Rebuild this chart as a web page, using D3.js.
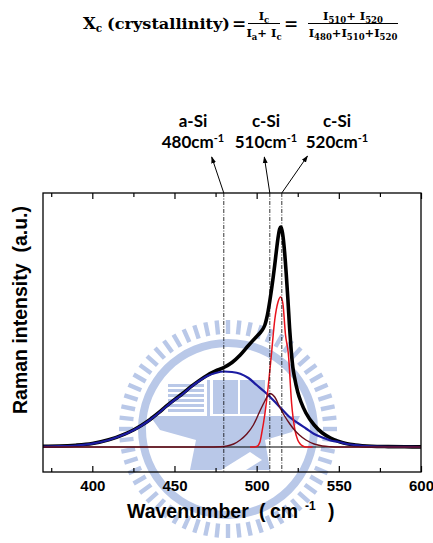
<!DOCTYPE html>
<html><head><meta charset="utf-8">
<script src="https://cdn.jsdelivr.net/npm/d3@7"></script>
<style>body{margin:0;background:#fff}</style>
</head><body><svg id="c" width="433" height="543"></svg>
<script>
// ---------- data ----------
const xTicksMajor = [400, 450, 500, 550, 600];
const xTicksMinor = [375, 425, 475, 525, 575];

const totalWn  = [370,380,390,400,410,420,425,430,435,440,445,450,455,460,465,470,475,480,485,490,495,500,502,504,505,506,507,508,509,510,511,512,513,514,514.6,515,516,517,518,519,520,521,522,523,525,527,530,535,540,545,550,555,560,570,580,590,600];
const totalVal = [0.8,1,1.8,3.5,7.2,13.2,17,21.8,27.3,33.8,40.8,47.4,53.5,60.3,66.4,71.8,76,79.5,84.5,92,101.5,110.5,114,118.5,122,128,136,146,157,169,182,196,209,218,220,219,211,195,173,148,120,97,80,70,55,45,34,22,14,9,5.5,3.2,2,0.8,0.4,0.2,0.1];

const aSi480Wn  = [370,380,390,400,410,420,425,430,435,440,445,450,455,460,465,470,475,480,485,490,495,500,505,510,515,520,525,530,535,540,545,550,555,560,570,580,590,600];
const aSi480Val = [0.5,0.8,1.5,3.3,7,13,16.7,21.5,27,33.5,40.5,47,53,60,66,71,74,75.5,75,73.3,69,62,55,47,38.5,30,24,18.5,13,9.5,6.5,5,3,1.8,0.6,0.2,0.1,0];

const cSi510Wn  = [370,470,478,482,486,490,494,498,502,505,508,511,514,517,520,523,526,530,535,540,545,550,600];
const cSi510Val = [0,0,0.3,1,3,7,13,22,36,46,53.5,50,40,31,23.5,17,12,7,3,1,0.3,0,0];

const cSi520Wn  = [496,498,500,502,503,505,507,509,511,513,514.6,516,517.5,519.3,521.3,523.3,525,526.5,528,530,534];
const cSi520Val = [0,0,0.5,5,13,33,60,93,127,145,150,143,113,93,43,17,7,3,1,0,0];

const peakLinesWn = [480, 508, 515.3];
const peakNames   = ["a-Si", "c-Si", "c-Si"];
const peakNumbers = ["480", "510", "520"];

// ---------- layout ----------
const svg = d3.select("#c");
const L = 43, R = 421, T = 193, B = 472;
const x = d3.scaleLinear().domain([370, 600]).range([L, R]);
const y = d3.scaleLinear().domain([-25, 254]).range([B, T]);

const defs = svg.append("defs");
defs.append("clipPath").attr("id","clip")
  .append("rect").attr("x",L).attr("y",T).attr("width",R-L).attr("height",B-T);
defs.append("marker").attr("id","arr").attr("viewBox","0 0 10 10").attr("refX",9).attr("refY",5)
  .attr("markerWidth",7).attr("markerHeight",7).attr("orient","auto")
  .append("path").attr("d","M0,1.5 L10,5 L0,8.5 Z").attr("fill","#000");

// ---------- faint watermark emblem (background decoration) ----------
const wm = svg.append("g").attr("fill","#b9c8e8").attr("stroke","none");
const cx0 = 228, cy0 = 429;
d3.range(0, 360, 6).forEach(a=>{
  wm.append("rect").attr("x",-2.2).attr("y",-109).attr("width",4.4).attr("height",14)
    .attr("transform",`translate(${cx0},${cy0}) rotate(${a})`);
});
wm.append("path").attr("d", d3.arc().innerRadius(82).outerRadius(90).startAngle(0).endAngle(2*Math.PI)())
  .attr("transform",`translate(${cx0},${cy0})`);
// book block
d3.range(0,6).forEach(i=>{
  wm.append("rect").attr("x",168).attr("y",384+i*5).attr("width",36).attr("height",3);
});
wm.append("rect").attr("x",207).attr("y",380).attr("width",3).attr("height",36);
wm.append("rect").attr("x",213).attr("y",380).attr("width",25).attr("height",34);
wm.append("rect").attr("x",240).attr("y",380).attr("width",25).attr("height",34);
// anvil-like base
wm.append("path").attr("d","M150,416 L300,416 L292,432 L265,440 L270,470 L190,470 L196,440 L160,430 Z");
wm.append("path").attr("d","M205,480 L250,452 L262,460 L214,490 Z").attr("fill","#ffffff");

const zip = (a,b) => a.map((v,i)=>[v,b[i]]);
const line = d3.line().x(d=>x(d[0])).y(d=>y(d[1])).curve(d3.curveMonotoneX);

const plot = svg.append("g").attr("clip-path","url(#clip)");
plot.append("line").attr("x1",L).attr("x2",R).attr("y1",y(0)).attr("y2",y(0))
  .attr("stroke","#000").attr("stroke-width",1.2);
plot.append("path").attr("d",line(zip(totalWn,totalVal))).attr("fill","none")
  .attr("stroke","#000").attr("stroke-width",3.6).attr("stroke-linejoin","round");
plot.append("path").attr("d",line(zip(aSi480Wn,aSi480Val))).attr("fill","none")
  .attr("stroke","#1c1ca2").attr("stroke-width",2.2);
plot.append("path").attr("d",line(zip(cSi520Wn,cSi520Val))).attr("fill","none")
  .attr("stroke","#e8121c").attr("stroke-width",1.5);
plot.append("path").attr("d",line(zip(cSi510Wn,cSi510Val))).attr("fill","none")
  .attr("stroke","#6a0f1c").attr("stroke-width",1.4);

// dashed peak lines
svg.selectAll(".pl").data(peakLinesWn).enter().append("line")
  .attr("x1",d=>x(d)).attr("x2",d=>x(d)).attr("y1",T).attr("y2",B)
  .attr("stroke","#000").attr("stroke-width",0.8).attr("stroke-dasharray","4,1.5,1,1.5");

// frame
svg.append("rect").attr("x",L).attr("y",T).attr("width",R-L).attr("height",B-T)
  .attr("fill","none").attr("stroke","#000").attr("stroke-width",1.3);

// axes
const fmt = d3.format("d");
const gB = svg.append("g").attr("transform",`translate(0,${B})`)
  .call(d3.axisBottom(x).tickValues(xTicksMajor).tickSize(-6).tickPadding(8).tickFormat(fmt));
const gBm = svg.append("g").attr("transform",`translate(0,${B})`)
  .call(d3.axisBottom(x).tickValues(xTicksMinor).tickSize(-4).tickFormat(""));
const gT = svg.append("g").attr("transform",`translate(0,${T})`)
  .call(d3.axisTop(x).tickValues(xTicksMajor).tickSize(-6).tickFormat(""));
const gTm = svg.append("g").attr("transform",`translate(0,${T})`)
  .call(d3.axisTop(x).tickValues(xTicksMinor).tickSize(-4).tickFormat(""));
[gB,gBm,gT,gTm].forEach(g=>{
  g.select(".domain").remove();
  g.selectAll("line").attr("stroke","#000").attr("stroke-width",1.2);
});
gB.selectAll("text").attr("font-family","'Liberation Sans', Arial, sans-serif")
  .attr("font-weight","bold").attr("font-size",15).attr("fill","#000");

// axis titles
svg.append("text").attr("transform","translate(27,310) rotate(-90)")
  .attr("text-anchor","middle").attr("font-family","'Liberation Sans', Arial, sans-serif")
  .attr("font-weight","bold").attr("font-size",19.5).text("Raman intensity\u00a0\u00a0(a.u.)");

const xt = svg.append("text").attr("y",518).attr("font-family","'Liberation Sans', Arial, sans-serif")
  .attr("font-weight","bold").attr("font-size",19.5);
xt.append("tspan").attr("x",127).text("Wavenumber");
xt.append("tspan").attr("x",259).text("(");
xt.append("tspan").attr("x",270).text("cm");
xt.append("tspan").attr("x",305).attr("dy",-8).attr("font-size",12).text("-1");
xt.append("tspan").attr("x",328).attr("dy",8).text(")");

// annotations
const heads = [[211.7,157],[264.3,157],[307.5,156]];
const labX = [193, 266, 337];
peakLinesWn.forEach((wn,i)=>{
  svg.append("line").attr("x1",x(wn)).attr("y1",T).attr("x2",heads[i][0]).attr("y2",heads[i][1])
    .attr("stroke","#000").attr("stroke-width",1).attr("marker-end","url(#arr)");
  svg.append("text").attr("x",labX[i]).attr("y",126.5).attr("text-anchor","middle")
    .attr("font-family","Lato, 'Open Sans', sans-serif").attr("font-weight","bold")
    .attr("font-size",17).text(peakNames[i]);
  const t = svg.append("text").attr("x",labX[i]).attr("y",147.5).attr("text-anchor","middle")
    .attr("font-family","Lato, 'Open Sans', sans-serif").attr("font-weight","bold").attr("font-size",17);
  t.append("tspan").text(peakNumbers[i] + "cm");
  t.append("tspan").attr("dy",-6).attr("font-size",11).text("-1");
});

// formula
const serif = "'DejaVu Serif', 'Liberation Serif', serif";
const f = svg.append("g").attr("font-family",serif).attr("font-weight","bold").attr("fill","#000");
const m1 = f.append("text").attr("x",83).attr("y",29).attr("font-size",16.5);
m1.append("tspan").text("X");
m1.append("tspan").attr("font-size",10.5).attr("dy",3).text("c");
f.append("text").attr("x",107).attr("y",29).attr("font-size",15.5)
  .attr("textLength",123).attr("lengthAdjust","spacingAndGlyphs").text("(crystallinity)");
f.append("text").attr("x",239).attr("y",29).attr("font-size",17).attr("text-anchor","middle").text("=");
f.append("text").attr("x",291).attr("y",29).attr("font-size",17).attr("text-anchor","middle").text("=");
f.append("line").attr("x1",248).attr("x2",280).attr("y1",23.5).attr("y2",23.5).attr("stroke","#000").attr("stroke-width",1);
f.append("line").attr("x1",308).attr("x2",398).attr("y1",23.5).attr("y2",23.5).attr("stroke","#000").attr("stroke-width",1);
function frac(cx, yb, parts){
  const t = f.append("text").attr("x",cx).attr("y",yb).attr("text-anchor","middle").attr("font-size",11.5);
  parts.forEach(p=>{
    t.append("tspan").attr("dy",p[2]||0).attr("font-size",p[1]?8.5:11.5).text(p[0]);
  });
}
frac(264, 20, [["I"],["c",1,2.5],["",0,-2.5]]);
frac(264, 37, [["I"],["a",1,2.5],["+ I",0,-2.5],["c",1,2.5]]);
frac(353, 20, [["I"],["510",1,2.5],["+ I",0,-2.5],["520",1,2.5]]);
frac(353, 37, [["I"],["480",1,2.5],["+I",0,-2.5],["510",1,2.5],["+I",0,-2.5],["520",1,2.5]]);
</script></body></html>
